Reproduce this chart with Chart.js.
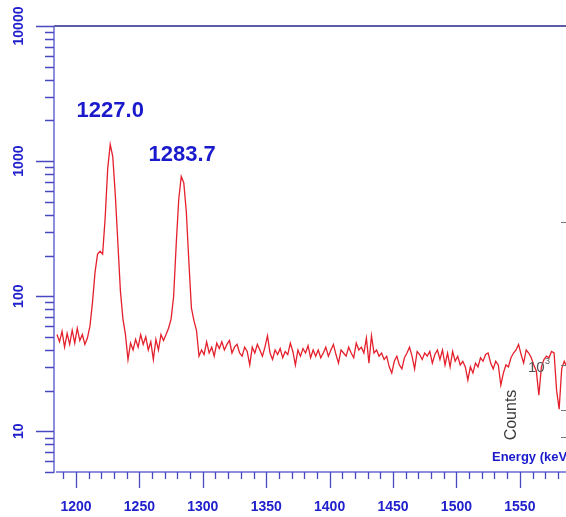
<!DOCTYPE html>
<html>
<head>
<meta charset="utf-8">
<script src="https://cdn.jsdelivr.net/npm/chart.js@4.4.1/dist/chart.umd.min.js"></script>
<style>
    html, body { margin: 0; padding: 0; background: #fff; }
    #spectrum { display: block; }
</style>
</head>
<body>
<canvas id="spectrum" width="566" height="517"></canvas>
<script>
// Gamma spectrum, 2 keV bins starting at 1185 keV
const binStart = 1185;
const binWidth = 2;
const counts = [
    52, 46, 55, 42, 53, 44, 56, 45, 58, 47,
    52, 44, 49, 60, 90, 150, 205, 215, 205, 380,
    880, 1330, 1080, 560, 250, 110, 68, 52, 34, 45,
    40, 48, 42, 52, 44, 50, 40, 46, 34, 48,
    40, 52, 47, 52, 58, 68, 100, 240, 520, 770,
    690, 420, 180, 82, 66, 56, 36, 40, 37, 46,
    38, 42, 36, 45, 41, 46, 40, 44, 47, 38,
    42, 44, 38, 36, 42, 39, 31, 42, 38, 44,
    40, 36, 42, 51, 38, 34, 40, 37, 41, 35,
    39, 37, 45, 39, 31, 40, 36, 41, 38, 43,
    35, 40, 36, 40, 35, 38, 42, 36, 40, 44,
    37, 32, 40, 38, 36, 42, 38, 35, 45, 40,
    42, 38, 49, 32, 51, 38, 40, 36, 38, 34,
    36, 30, 27, 33, 36, 31, 29, 35, 38, 42,
    36, 29, 39, 37, 34, 38, 36, 39, 32, 37,
    40, 34, 40, 31, 38, 30, 39, 33, 36, 31,
    33, 30, 24, 30, 27, 32, 30, 35, 33, 37,
    38, 32, 29, 33, 31, 22, 27, 31, 30, 35,
    38, 40, 44, 37, 32, 40, 38, 35, 31, 28,
    18.5, 30, 34, 36, 35, 39, 38, 20, 14.6, 29,
    33, 30
];

// Identified peaks (keV)
const peakEnergies = [1227.0, 1283.7];
const peakLabels = ['1227.0', '1283.7'];
const peakLabelY = [111, 155];

// Axis ticks
const xTickLabels = ['1200', '1250', '1300', '1350', '1400', '1450', '1500', '1550'];
const yTickLabels = ['10', '100', '1000', '10000'];

const points = counts.map((c, i) => ({ x: binStart + i * binWidth, y: c }));

const AXIS = '#6a6ad4';
const TICK = '#4848c0';
const LABEL = '#2020cc';

const axesPlugin = {
    id: 'spectrumAxes',
    afterDraw(chart) {
        const ctx = chart.ctx;
        const xs = chart.scales.x;
        const ys = chart.scales.y;
        const area = chart.chartArea;

        ctx.save();

        // frame: left axis, bottom axis, top line
        ctx.strokeStyle = AXIS;
        ctx.lineWidth = 1.5;
        ctx.beginPath();
        ctx.moveTo(54, area.top);
        ctx.lineTo(54, area.bottom + 1);
        ctx.moveTo(56, area.bottom);
        ctx.lineTo(chart.width, area.bottom);
        ctx.stroke();

        ctx.strokeStyle = '#5c5ca8';
        ctx.lineWidth = 2;
        ctx.beginPath();
        ctx.moveTo(54, area.top);
        ctx.lineTo(chart.width, area.top);
        ctx.stroke();

        // y ticks (log decades + 2..9 minors)
        ctx.strokeStyle = TICK;
        ctx.lineWidth = 1.3;
        ctx.beginPath();
        for (let d = 1; d <= 1000; d *= 10) {
            for (let m = 1; m <= 10; m++) {
                const v = d * m;
                if (v < ys.min || v > ys.max) continue;
                const py = Math.round(ys.getPixelForValue(v)) + 0.5;
                const len = (m === 1 || m === 10) ? 18 : 9;
                ctx.moveTo(54 - len, py);
                ctx.lineTo(54, py);
            }
        }
        ctx.stroke();

        // x ticks every 10 keV, longer every 50
        ctx.beginPath();
        for (let e = 1190; e <= xs.max; e += 10) {
            const px = Math.round(xs.getPixelForValue(e)) + 0.5;
            const len = e % 50 === 0 ? 16 : 7;
            ctx.moveTo(px, area.bottom);
            ctx.lineTo(px, area.bottom + len);
        }
        ctx.stroke();

        // tick labels
        ctx.fillStyle = LABEL;
        ctx.font = 'bold 14px "Liberation Sans", Arial, sans-serif';
        ctx.textAlign = 'center';
        ctx.textBaseline = 'middle';
        xTickLabels.forEach(t => {
            ctx.fillText(t, xs.getPixelForValue(Number(t)), 507);
        });
        yTickLabels.forEach(t => {
            ctx.save();
            ctx.translate(19, ys.getPixelForValue(Number(t)));
            ctx.rotate(-Math.PI / 2);
            ctx.fillText(t, 0, 0);
            ctx.restore();
        });

        // peak energies
        ctx.fillStyle = '#1a1acc';
        ctx.font = 'bold 22px "Liberation Sans", Arial, sans-serif';
        peakEnergies.forEach((e, i) => {
            ctx.fillText(peakLabels[i], xs.getPixelForValue(e), peakLabelY[i]);
        });

        // axis title (runs off the right edge)
        ctx.font = 'bold 13px "Liberation Sans", Arial, sans-serif';
        ctx.textAlign = 'left';
        ctx.fillText('Energy (keV)', 492, 457);

        // stray right-hand axis of the overlaid counts plot
        ctx.fillStyle = '#3a3a3a';
        ctx.font = '16px "Liberation Sans", Arial, sans-serif';
        ctx.save();
        ctx.translate(512, 415);
        ctx.rotate(-Math.PI / 2);
        ctx.textAlign = 'center';
        ctx.fillText('Counts', 0, 0);
        ctx.restore();

        ctx.fillStyle = '#555';
        ctx.font = '15px "Liberation Sans", Arial, sans-serif';
        ctx.fillText('10', 528, 368);
        ctx.font = '9px "Liberation Sans", Arial, sans-serif';
        ctx.fillText('3', 545, 362);

        ctx.strokeStyle = '#777';
        ctx.lineWidth = 1;
        ctx.beginPath();
        [222, 365, 410, 437].forEach(py => {
            ctx.moveTo(561, py + 0.5);
            ctx.lineTo(566, py + 0.5);
        });
        ctx.stroke();

        ctx.restore();
    }
};

new Chart(document.getElementById('spectrum'), {
    type: 'line',
    data: {
        datasets: [{
            data: points,
            borderColor: '#e4202c',
            borderWidth: 1.3,
            pointRadius: 0,
            tension: 0,
            fill: false
        }]
    },
    options: {
        responsive: false,
        animation: false,
        devicePixelRatio: 1,
        layout: { padding: { left: 54, top: 26, right: 0, bottom: 45 } },
        plugins: { legend: { display: false }, tooltip: { enabled: false } },
        scales: {
            x: { type: 'linear', min: 1182.65, max: 1586.4, display: false },
            y: { type: 'logarithmic', min: 5, max: 10000, display: false }
        }
    },
    plugins: [axesPlugin]
});
</script>
</body>
</html>
